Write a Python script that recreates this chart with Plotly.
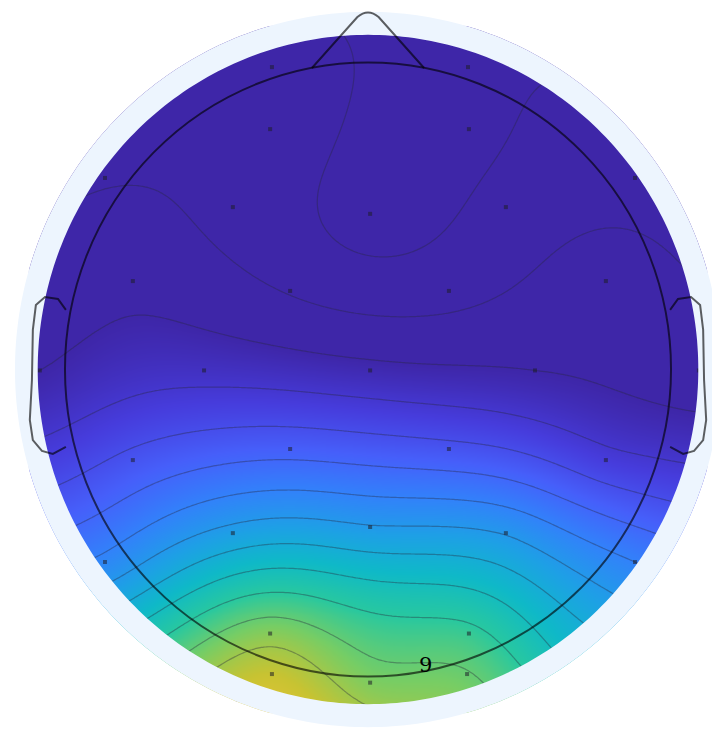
import numpy as np
import plotly.graph_objects as go

# ---------------- data ----------------
channels = ["Fp1", "Fp2", "AF3", "AF4", "F7", "F8", "F3", "Fz", "F4",
            "FC5", "FC1", "FC2", "FC6", "T7", "C3", "Cz", "C4", "T8",
            "CP5", "CP1", "CP2", "CP6", "P7", "P3", "Pz", "P4", "P8",
            "PO7", "PO3", "PO4", "PO8", "O1", "Oz", "O2"]
sensor_x = [-0.317, 0.330, -0.323, 0.333, -0.868, 0.881, -0.446, 0.007, 0.455,
            -0.776, -0.257, 0.267, 0.785, -1.083, -0.541, 0.007, 0.551, 1.092,
            -0.776, -0.257, 0.267, 0.785, -0.868, -0.446, 0.007, 0.455, 0.881,
            -0.620, -0.323, 0.333, 0.630, -0.317, 0.007, 0.327]
sensor_y = [0.985, 0.985, 0.783, 0.783, 0.624, 0.624, 0.529, 0.507, 0.529,
            0.288, 0.256, 0.256, 0.288, -0.003, -0.003, -0.003, -0.003, -0.003,
            -0.295, -0.259, -0.259, -0.295, -0.627, -0.533, -0.513, -0.533, -0.627,
            -0.945, -0.860, -0.860, -0.945, -0.992, -1.020, -0.992]
sensor_values = [-0.12, -0.16, -0.10, -0.17, -0.08, -0.10, -0.10, -0.18, -0.12,
                 -0.02, -0.08, -0.10, -0.05, 0.00, 0.05, 0.02, 0.00, -0.04,
                 0.17, 0.20, 0.17, 0.10, 0.32, 0.40, 0.38, 0.37, 0.30,
                 0.68, 0.72, 0.62, 0.53, 0.80, 0.71, 0.68]
marked_label = "9"
marked_pos = (0.191, -0.963)

# parula-like colour map
parula = [[0.00, "rgb(62,38,168)"], [0.10, "rgb(70,60,220)"], [0.20, "rgb(70,95,250)"],
          [0.30, "rgb(50,130,250)"], [0.40, "rgb(30,160,230)"], [0.50, "rgb(15,185,200)"],
          [0.60, "rgb(40,200,160)"], [0.70, "rgb(120,205,100)"], [0.80, "rgb(200,195,50)"],
          [0.90, "rgb(250,195,55)"], [1.00, "rgb(249,251,21)"]]

# ---------------- interpolation (thin plate spline, like a topomap) ----------------
sx = np.array(sensor_x); sy = np.array(sensor_y); sv = np.array(sensor_values)
n = len(sx)

def kern(d):
    with np.errstate(divide="ignore", invalid="ignore"):
        k = d ** 2 * np.log(d)
    k[d == 0] = 0.0
    return k

D = np.hypot(sx[:, None] - sx[None, :], sy[:, None] - sy[None, :])
K = kern(D)
P = np.c_[np.ones(n), sx, sy]
A = np.zeros((n + 3, n + 3))
A[:n, :n] = K; A[:n, n:] = P; A[n:, :n] = P.T
rhs = np.r_[sv, np.zeros(3)]
coef = np.linalg.solve(A, rhs)
w, a = coef[:n], coef[n:]

g = np.linspace(-1.12, 1.12, 281)
GX, GY = np.meshgrid(g, g)
Dg = np.hypot(GX[..., None] - sx, GY[..., None] - sy)
Z = kern(Dg) @ w + a[0] + a[1] * GX + a[2] * GY

fig = go.Figure()
fig.add_trace(go.Contour(
    x=g, y=g, z=Z, colorscale=parula, zmin=0, zmax=1, showscale=False,
    contours=dict(start=-0.6, end=1.0, size=0.075, coloring="heatmap", showlines=True),
    line=dict(color="rgba(40,40,60,0.38)", width=1.2), hoverinfo="skip"))

fig.add_trace(go.Scatter(
    x=sensor_x, y=sensor_y, mode="markers", text=channels,
    marker=dict(symbol="square", size=4, color="rgba(30,30,40,0.55)"),
    hoverinfo="text", showlegend=False))

# ---------------- head outline and masks ----------------
def circ(r, N=360):
    t = np.linspace(0, 2 * np.pi, N, endpoint=False)
    return " ".join(("M" if i == 0 else "L") + f" {r*np.cos(tt):.4f} {r*np.sin(tt):.4f}"
                    for i, tt in enumerate(t)) + " Z"

R_DATA = 1.09
R_BG = 1.165
white_mask = "M -3 -3 L 3 -3 L 3 3 L -3 3 Z " + circ(R_BG)
ring_mask = circ(R_BG) + " " + circ(R_DATA)

shapes = [
    dict(type="path", path=white_mask, fillcolor="white", fillrule="evenodd",
         line=dict(width=0), layer="above", xref="x", yref="y"),
    dict(type="path", path=ring_mask, fillcolor="rgb(237,245,254)", fillrule="evenodd",
         line=dict(width=0), layer="above", xref="x", yref="y"),
]
outline = "rgba(0,0,0,0.62)"
shapes.append(dict(type="circle", x0=-1, x1=1, y0=-1, y1=1, xref="x", yref="y",
                   line=dict(color=outline, width=2), layer="above"))
shapes.append(dict(type="path", path="M -0.185 0.982 L -0.035 1.148 Q 0 1.178 0.035 1.148 L 0.185 0.982",
                   xref="x", yref="y", line=dict(color=outline, width=2), layer="above"))
ear = [(-0.997, 0.194), (-1.023, 0.230), (-1.066, 0.236), (-1.096, 0.210), (-1.106, 0.129),
       (-1.109, -0.034), (-1.116, -0.164), (-1.106, -0.230), (-1.076, -0.265),
       (-1.040, -0.275), (-0.997, -0.252)]
for sgn in (1, -1):
    p = " ".join(("M" if i == 0 else "L") + f" {sgn*ex:.4f} {ey:.4f}" for i, (ex, ey) in enumerate(ear))
    shapes.append(dict(type="path", path=p, xref="x", yref="y",
                       line=dict(color=outline, width=2), layer="above"))

fig.add_annotation(x=marked_pos[0], y=marked_pos[1], text=marked_label, showarrow=False,
                   font=dict(family="DejaVu Serif", size=21, color="black"))

# page body has an 8 px margin: ranges chosen so the head sits where the reference has it
fig.update_layout(
    width=720, height=729, margin=dict(l=0, r=0, t=0, b=0),
    paper_bgcolor="white", plot_bgcolor="white", shapes=shapes, showlegend=False,
    xaxis=dict(range=[-1.188, 1.188], visible=False, fixedrange=True),
    yaxis=dict(range=[-1.197, 1.1775], visible=False, fixedrange=True),
)
fig.write_html("out.html")
